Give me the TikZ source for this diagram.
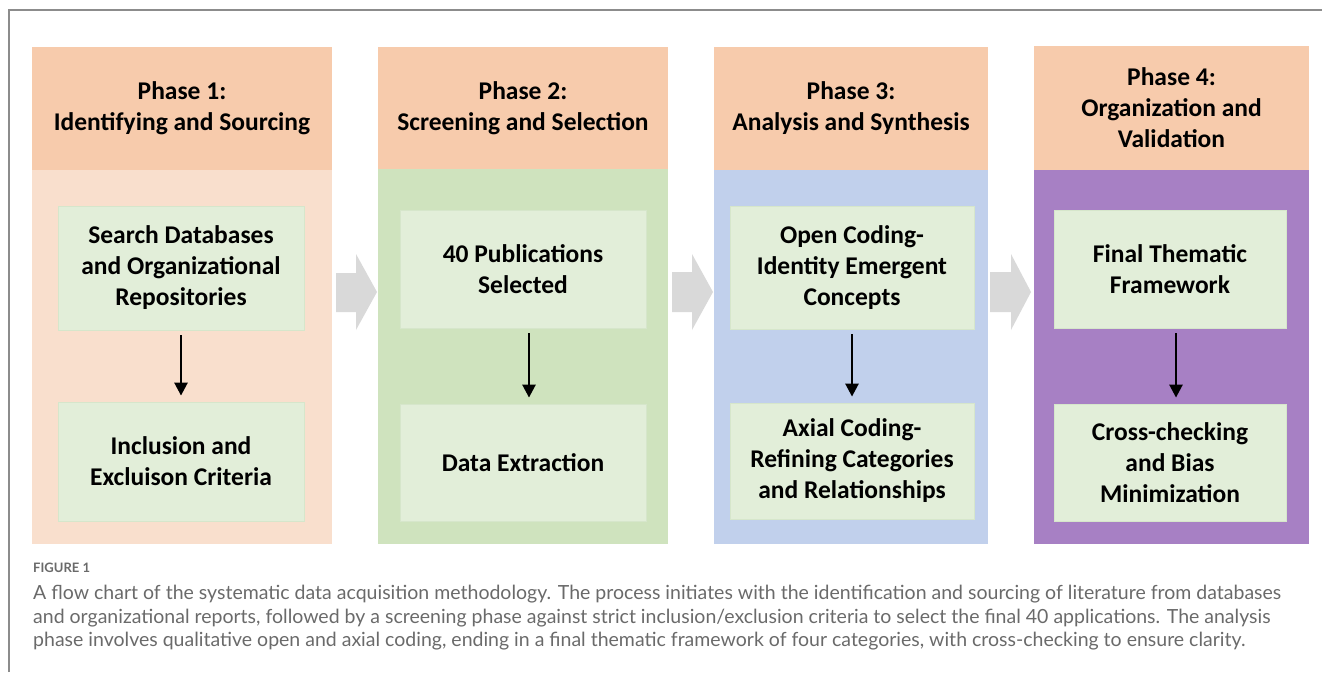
\documentclass[tikz,border=0pt]{standalone}
\usepackage{fontspec}
\setmainfont{Carlito}
\newfontfamily\capfont{Lato}
\usetikzlibrary{arrows.meta}
\definecolor{hdrfill}{HTML}{F7CBAC}
\definecolor{bodyA}{HTML}{F9DFCD}
\definecolor{bodyB}{HTML}{CFE3BE}
\definecolor{bodyC}{HTML}{C1D0EC}
\definecolor{bodyD}{HTML}{A780C4}
\definecolor{stepfill}{HTML}{E2EED9}
\definecolor{stepedge}{HTML}{D6E6CB}
\definecolor{chevfill}{HTML}{D9D9D9}
\definecolor{capgray}{HTML}{6A6A6A}
\definecolor{framegray}{HTML}{8C8C8C}
\begin{document}
\begin{tikzpicture}[x=1pt,y=-1pt,
  boxtext/.style={font=\bfseries\fontsize{25.5}{31}\selectfont, align=center, text=black},
  header/.style={boxtext, fill=hdrfill, inner sep=0pt, minimum height=123pt},
  phasebody/.style={inner sep=0pt},
  stepbox/.style={boxtext, fill=stepfill, draw=stepedge, line width=0.8pt, inner sep=0pt},
  downarrow/.style={line width=2.6pt, -{Triangle[width=13pt,length=13pt]}, shorten <=5pt, shorten >=6pt},
  chevron/.style={fill=chevfill}
]
\useasboundingbox (0,0) rectangle (1322,672);

% page frame (top and left rules)
\draw[framegray, line width=1.6pt] (9,672) -- (9,10) -- (1322,10);

% phase columns: body first, header on top
\node[phasebody, fill=bodyA, minimum width=300pt, minimum height=376pt] (body1) at (182,356) {};
\node[header, minimum width=300pt] (head1) at (182,108) {Phase 1:\\Identifying and Sourcing};

\node[phasebody, fill=bodyB, minimum width=290pt, minimum height=375pt] (body2) at (523,356.5) {};
\node[header, minimum width=290pt, minimum height=122pt] (head2) at (523,108) {Phase 2:\\Screening and Selection};

\node[phasebody, fill=bodyC, minimum width=274pt, minimum height=374pt] (body3) at (851,357) {};
\node[header, minimum width=274pt] (head3) at (851,108.5) {Phase 3:\\Analysis and Synthesis};

\node[phasebody, fill=bodyD, minimum width=275pt, minimum height=374pt] (body4) at (1171.5,357) {};
\node[header, minimum width=275pt, minimum height=124pt] (head4) at (1171.5,108) {Phase 4:\\Organization and\\Validation};

% steps inside each phase
\node[stepbox, minimum width=246pt, minimum height=124pt] (s1a) at (181,268) {Search Databases\\and Organizational\\Repositories};
\node[stepbox, minimum width=246pt, minimum height=119pt] (s1b) at (181,461.5) {Inclusion and\\Excluison Criteria};

\node[stepbox, minimum width=246pt, minimum height=118pt] (s2a) at (523,269) {40 Publications\\Selected};
\node[stepbox, minimum width=246pt, minimum height=117pt] (s2b) at (523,462.5) {Data Extraction};

\node[stepbox, minimum width=244pt, minimum height=123pt] (s3a) at (852,267.5) {Open Coding-\\Identity Emergent\\Concepts};
\node[stepbox, minimum width=244pt, minimum height=116pt] (s3b) at (852,461) {Axial Coding-\\Refining Categories\\and Relationships};

\node[stepbox, minimum width=232pt, minimum height=118pt] (s4a) at (1170,269) {Final Thematic\\Framework};
\node[stepbox, minimum width=232pt, minimum height=117pt] (s4b) at (1170,462.5) {Cross-checking\\and Bias\\Minimization};

% arrows between steps
\draw[downarrow] (s1a.south) -- (s1b.north);
\draw[downarrow] ([xshift=6pt]s2a.south) -- ([xshift=6pt]s2b.north);
\draw[downarrow] (s3a.south) -- (s3b.north);
\draw[downarrow] ([xshift=6pt]s4a.south) -- ([xshift=6pt]s4b.north);

% block arrows between phases
\fill[chevron] (336,273) -- (356,273) -- (356,254) -- (377,292) -- (356,330) -- (356,312) -- (336,312) -- cycle;
\fill[chevron] (672,272) -- (692,272) -- (692,254) -- (713,292) -- (692,330) -- (692,312) -- (672,312) -- cycle;
\fill[chevron] (990,272) -- (1011,272) -- (1011,254) -- (1031,292) -- (1011,330) -- (1011,312) -- (990,312) -- cycle;

% caption
\node[anchor=west, inner sep=0pt, font=\capfont\bfseries\fontsize{13}{15}\selectfont, text=capgray] (figlabel) at (33,568) {FIGURE 1};
\node[anchor=north west, inner sep=0pt, align=left, font=\capfont\fontsize{19.5}{23.5}\selectfont, text=capgray] (caption) at (33,585)
{A flow chart of the systematic data acquisition methodology. The process initiates with the identification and sourcing of literature from databases\\
and organizational reports, followed by a screening phase against strict inclusion/exclusion criteria to select the final 40 applications. The analysis\\
phase involves qualitative open and axial coding, ending in a final thematic framework of four categories, with cross-checking to ensure clarity.};
\end{tikzpicture}
\end{document}
